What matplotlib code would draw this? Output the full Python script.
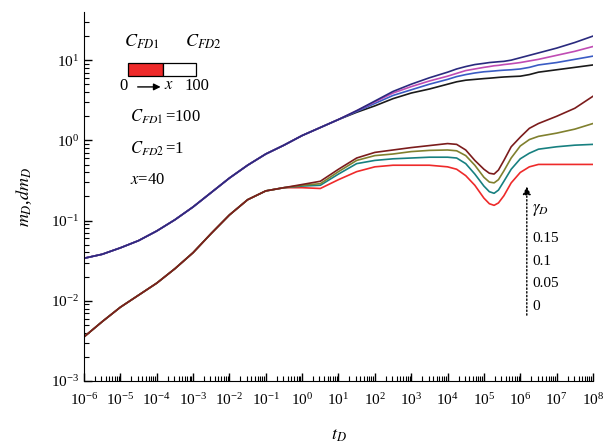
import numpy as np
import matplotlib
matplotlib.use("Agg")
import matplotlib.pyplot as plt
import matplotlib.patches as mpatches
from matplotlib.ticker import LogLocator, NullFormatter

plt.rcParams['font.family'] = ['Liberation Serif', 'DejaVu Serif']
plt.rcParams['mathtext.fontset'] = 'stix'

# dimensionless time, log10 exponents
log_t = [-6, -5.5, -5, -4.5, -4, -3.5, -3, -2.5, -2, -1.5, -1, -0.5, 0, 0.5, 1,
         1.5, 2, 2.5, 3, 3.5, 4, 4.25, 4.5, 4.75, 5, 5.15, 5.28, 5.4, 5.55, 5.75,
         6, 6.25, 6.5, 7, 7.5, 8]

gamma_labels = ['0', '0.05', '0.1', '0.15']

# pressure m_D (log10), shared early part up to t_D = 10
m_common = [-1.47, -1.42, -1.34, -1.25, -1.13, -0.99, -0.83, -0.65, -0.47, -0.31,
            -0.17, -0.06, 0.06, 0.16, 0.26]
m_g0 = [0.35, 0.43, 0.52, 0.59, 0.64, 0.70, 0.73, 0.75, 0.76, 0.77, 0.775, 0.78,
        0.785, 0.79, 0.795, 0.80, 0.82, 0.85, 0.88, 0.91, 0.94]
m_g005 = [0.36, 0.46, 0.56, 0.63, 0.70, 0.76, 0.795, 0.82, 0.84, 0.855, 0.86, 0.865,
          0.87, 0.875, 0.88, 0.89, 0.91, 0.94, 0.97, 1.01, 1.05]
m_g01 = [0.37, 0.48, 0.59, 0.67, 0.74, 0.80, 0.835, 0.87, 0.89, 0.91, 0.92, 0.93,
         0.935, 0.945, 0.955, 0.97, 0.99, 1.01, 1.06, 1.11, 1.17]
m_g015 = [0.37, 0.49, 0.61, 0.70, 0.78, 0.85, 0.89, 0.92, 0.945, 0.96, 0.97, 0.975,
          0.98, 0.985, 1.0, 1.03, 1.06, 1.09, 1.15, 1.22, 1.30]

# derivative dm_D (log10), shared early part up to t_D = 10^-0.5
dm_common = [-2.45, -2.26, -2.08, -1.93, -1.78, -1.60, -1.40, -1.16, -0.93, -0.74,
             -0.63, -0.59]
dm_g0 = [-0.59, -0.60, -0.49, -0.39, -0.33, -0.31, -0.31, -0.31, -0.33, -0.36, -0.44, -0.56,
         -0.72, -0.79, -0.81, -0.78, -0.69, -0.53, -0.40, -0.33, -0.30, -0.30, -0.30, -0.30]
dm_g005 = [-0.57, -0.56, -0.42, -0.29, -0.25, -0.23, -0.22, -0.21, -0.21, -0.22, -0.29, -0.42,
           -0.57, -0.64, -0.66, -0.62, -0.51, -0.36, -0.23, -0.16, -0.11, -0.08, -0.06, -0.05]
dm_g01 = [-0.56, -0.54, -0.39, -0.25, -0.19, -0.17, -0.14, -0.125, -0.12, -0.13, -0.19, -0.31,
          -0.46, -0.52, -0.53, -0.49, -0.38, -0.22, -0.07, 0.01, 0.05, 0.09, 0.14, 0.21]
dm_g015 = [-0.55, -0.51, -0.36, -0.22, -0.15, -0.12, -0.09, -0.065, -0.04, -0.05, -0.12, -0.25,
           -0.36, -0.41, -0.42, -0.37, -0.25, -0.08, 0.04, 0.15, 0.21, 0.30, 0.40, 0.55]

m_colors = ['#1a1a1a', '#3a5cc4', '#c04cb4', '#2a2a7e']
dm_colors = ['#ee2a2a', '#178080', '#80802e', '#7b1c1c']

t = 10.0 ** np.array(log_t)

fig = plt.figure(figsize=(6.11, 4.45), dpi=100)
ax = fig.add_axes([0.1375, 0.1438, 0.833, 0.8292])

for tail, c in zip([m_g0, m_g005, m_g01, m_g015], m_colors):
    ax.plot(t, 10.0 ** np.array(m_common + tail), color=c, lw=1.2)
for tail, c in zip([dm_g0, dm_g005, dm_g01, dm_g015], dm_colors):
    ax.plot(t, 10.0 ** np.array(dm_common + tail), color=c, lw=1.2)

ax.set_xscale('log')
ax.set_yscale('log')
ax.set_xlim(1e-6, 1e8)
ax.set_ylim(1e-3, 10 ** 1.6)
ax.set_xticks(10.0 ** np.arange(-6, 9))
ax.set_yticks(10.0 ** np.arange(-3, 2))
ax.xaxis.set_minor_locator(LogLocator(base=10, subs=np.arange(2, 10), numticks=100))
ax.yaxis.set_minor_locator(LogLocator(base=10, subs=np.arange(2, 10), numticks=100))
ax.xaxis.set_minor_formatter(NullFormatter())
ax.yaxis.set_minor_formatter(NullFormatter())
ax.tick_params(which='major', direction='in', length=6, width=1, labelsize=11)
ax.tick_params(which='minor', direction='in', length=3.5, width=0.8)
ax.tick_params(axis='x', pad=8)
for side in ['top', 'right']:
    ax.spines[side].set_visible(False)

ax.set_xlabel('$t_D$', fontsize=13, labelpad=14)
ax.set_ylabel('$m_D$,$dm_D$', fontsize=13, labelpad=12)

# sketch of the two-segment fracture
tr = ax.transAxes
ax.text(0.114, 0.919, '$C_{FD1}$', transform=tr, fontsize=13, ha='center', va='center')
ax.text(0.234, 0.919, '$C_{FD2}$', transform=tr, fontsize=13, ha='center', va='center')
ax.add_patch(mpatches.Rectangle((0.0864, 0.8266), 0.0688, 0.0352, transform=tr,
                                facecolor='#ee2a2a', edgecolor='black', lw=0.9))
ax.add_patch(mpatches.Rectangle((0.1552, 0.8266), 0.0648, 0.0352, transform=tr,
                                facecolor='white', edgecolor='black', lw=0.9))
ax.text(0.077, 0.800, '0', transform=tr, fontsize=12, ha='center', va='center')
ax.text(0.166, 0.803, '$x$', transform=tr, fontsize=12, ha='center', va='center')
ax.text(0.222, 0.800, '100', transform=tr, fontsize=12, ha='center', va='center')
ax.annotate('', xy=(0.156, 0.797), xytext=(0.100, 0.797), xycoords=tr,
            arrowprops=dict(arrowstyle='-|>', color='black', lw=1, mutation_scale=10))

ax.text(0.0904, 0.715, r'$C_{FD1}\,$=100', transform=tr, fontsize=12, ha='left', va='center')
ax.text(0.0904, 0.629, r'$C_{FD2}\,$=1', transform=tr, fontsize=12, ha='left', va='center')
ax.text(0.0904, 0.545, '$x$=40', transform=tr, fontsize=12, ha='left', va='center')

# direction of increasing gamma_D
ax.annotate('', xy=(0.870, 0.535), xytext=(0.870, 0.171), xycoords=tr,
            arrowprops=dict(arrowstyle='-|>', color='black', lw=1, ls=':',
                            mutation_scale=12))
ax.text(0.880, 0.463, r'$\gamma_D$', transform=tr, fontsize=12, ha='left', va='center')
for yy, lab in zip([0.203, 0.263, 0.325, 0.3875], gamma_labels):
    ax.text(0.880, yy, lab, transform=tr, fontsize=11, ha='left', va='center')

fig.savefig('out.png', dpi=100)
